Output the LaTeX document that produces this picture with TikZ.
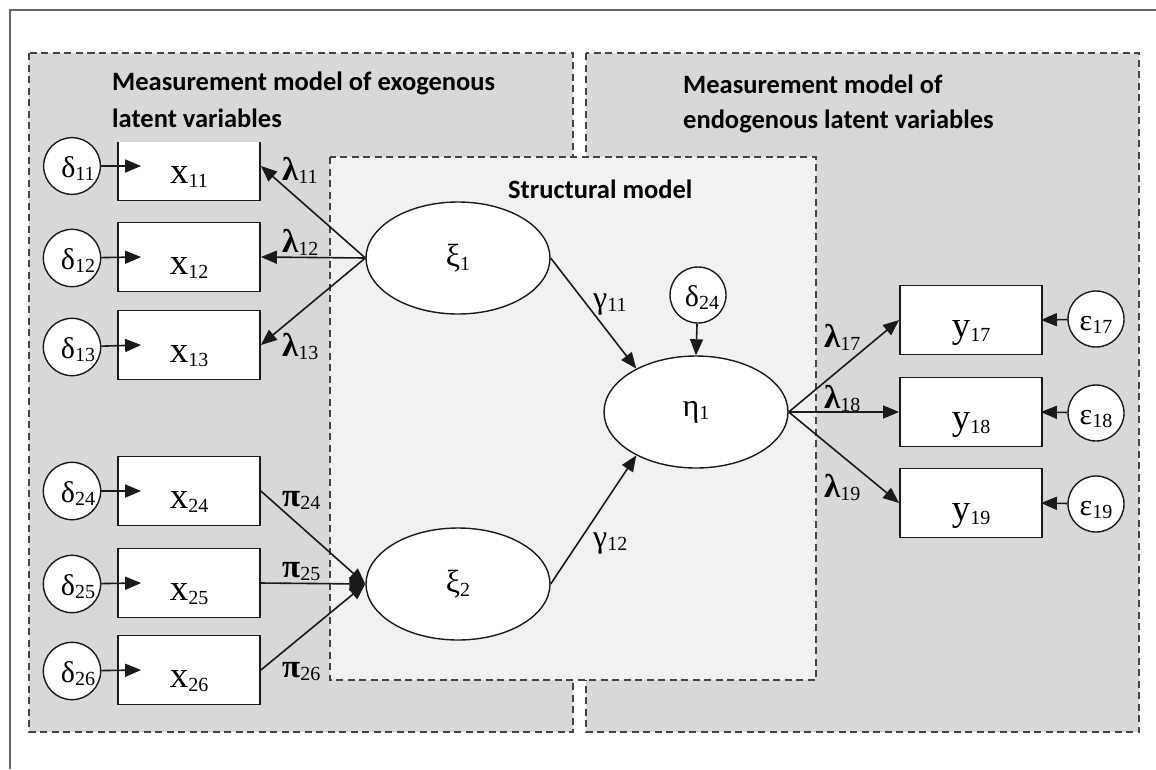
\documentclass[tikz,border=0pt]{standalone}
\usepackage{fontspec}
\setmainfont{Liberation Serif}
\newfontfamily\titlefont{Carlito}
\usetikzlibrary{arrows.meta,shapes.geometric}
\definecolor{regfill}{HTML}{D8D8D8}
\definecolor{strfill}{HTML}{F1F1F1}
\definecolor{dashc}{HTML}{444444}
\definecolor{framec}{HTML}{666666}
\definecolor{linec}{HTML}{1A1A1A}
\newcommand\sbs[1]{\raisebox{-0.12em}{\fontsize{20}{20}\selectfont\mdseries #1}}
\begin{document}
\begin{tikzpicture}[x=1pt,y=-1pt,
  region/.style={fill=regfill, draw=dashc, line width=1.6pt, dash pattern=on 7pt off 4.5pt},
  strbox/.style={fill=strfill, draw=dashc, line width=1.6pt, dash pattern=on 7pt off 4.5pt},
  obsbox/.style={draw=linec, line width=1.8pt, fill=white, minimum width=142pt, minimum height=69pt, inner sep=0pt, text height=40pt, text depth=6pt, font=\fontsize{37}{37}\selectfont},
  errc/.style={circle, draw=linec, line width=1.4pt, fill=white, minimum size=56pt, inner sep=0pt, text height=28pt, text depth=6pt, font=\fontsize{30}{30}\selectfont},
  latent/.style={ellipse, draw=linec, line width=1.4pt, fill=white, minimum width=184pt, minimum height=112pt, inner sep=0pt, font=\fontsize{32}{32}\selectfont},
  arr/.style={-{Triangle[length=16pt,width=13pt]}, line width=1.6pt, draw=linec},
  coef/.style={font=\fontsize{33}{33}\selectfont\bfseries, inner sep=0pt, anchor=base west},
  gcoef/.style={font=\fontsize{32}{32}\selectfont, inner sep=0pt, anchor=base west},
  title/.style={font=\titlefont\bfseries\fontsize{26.5}{26.5}\selectfont, anchor=base west, inner sep=0pt},
]
\useasboundingbox (0,0) rectangle (1156,769);
\fill[white] (0,0) rectangle (1156,769);
\draw[framec, line width=2.2pt] (10,769) -- (10,10) -- (1156,10);

% regions
\draw[region] (29,53) rectangle (573,732);
\draw[region] (586,53) rectangle (1139,732);
\draw[strbox] (330,157) rectangle (816,680);

% observed boxes
\node[obsbox] (x11) at (189,166) {x\sbs{11}};
\fill[regfill] (115,129.2) rectangle (263,142);
\node[obsbox] (x12) at (189,257) {x\sbs{12}};
\node[obsbox] (x13) at (189,345) {x\sbs{13}};
\node[obsbox] (x24) at (189,491) {x\sbs{24}};
\node[obsbox] (x25) at (189,583) {x\sbs{25}};
\node[obsbox] (x26) at (189,670) {x\sbs{26}};
\node[obsbox] (y17) at (971,320) {y\sbs{17}};
\node[obsbox] (y18) at (971,412) {y\sbs{18}};
\node[obsbox] (y19) at (971,503) {y\sbs{19}};

% titles
\node[title] (t1a) at (112,90) {Measurement model of exogenous};
\node[title] (t1b) at (112,127) {latent variables};
\node[title] (t2a) at (683,93) {Measurement model of};
\node[title] (t2b) at (683,128) {endogenous latent variables};
\node[title] (t3) at (508,198) {Structural model};

% error circles
\node[errc] (d11) at (72,166) {\hspace{12pt}δ\sbs{11}};
\node[errc] (d12) at (72,258) {\hspace{12pt}δ\sbs{12}};
\node[errc] (d13) at (72,347) {\hspace{12pt}δ\sbs{13}};
\node[errc] (d24) at (72,491) {\hspace{12pt}δ\sbs{24}};
\node[errc] (d25) at (72,584) {\hspace{12pt}δ\sbs{25}};
\node[errc] (d26) at (72,671) {\hspace{12pt}δ\sbs{26}};
\node[errc] (dz) at (698,295) {\hspace{8pt}δ\sbs{24}};
\node[errc] (e17) at (1096,319) {ε\sbs{17}};
\node[errc] (e18) at (1096,413) {ε\sbs{18}};
\node[errc] (e19) at (1096,504) {ε\sbs{19}};

% latent variables
\node[latent] (xi1) at (458,258) {ξ\sbs{1}};
\node[latent] (xi2) at (458,584) {ξ\sbs{2}};
\node[latent] (eta1) at (696,412) {η\sbs{1}};

% connectors
\foreach \i in {11,12,13,24,25,26}
  \draw[arr] (d\i) -- ([xshift=24pt]x\i.west);
\foreach \i in {17,18,19}
  \draw[arr] (e\i) -- ([xshift=-2pt]y\i.east);
\foreach \i in {11,12,13}
  \draw[arr] (xi1.west) -- (x\i.east);
\foreach \i in {24,25,26}
  \draw[arr] (x\i.east) -- (xi2.west);
\draw[arr] (xi1.east) -- (eta1.144);
\draw[arr] (xi2.east) -- (eta1.216);
\draw[arr] (dz) -- (eta1.north);
\foreach \i in {17,18,19}
  \draw[arr] (eta1.east) -- (y\i.west);

% coefficient labels
\node[coef] (l11) at (282,180) {λ\sbs{11}};
\node[coef] (l12) at (282,252) {λ\sbs{12}};
\node[coef] (l13) at (282,356) {λ\sbs{13}};
\node[coef] (p24) at (282,506) {π\sbs{24}};
\node[coef] (p25) at (282,577) {π\sbs{25}};
\node[coef] (p26) at (282,677) {π\sbs{26}};
\node[gcoef] (g11) at (593,308) {γ\sbs{11}};
\node[gcoef] (g12) at (593,547) {γ\sbs{12}};
\node[coef] (l17) at (824,347) {λ\sbs{17}};
\node[coef] (l18) at (824,408) {λ\sbs{18}};
\node[coef] (l19) at (824,497) {λ\sbs{19}};
\end{tikzpicture}
\end{document}
